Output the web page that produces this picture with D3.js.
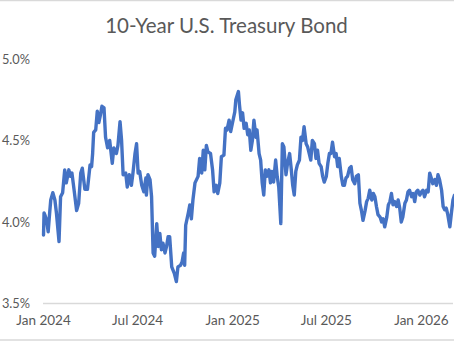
<!DOCTYPE html>
<html>
<head>
<meta charset="utf-8">
<script src="https://cdn.jsdelivr.net/npm/d3@7/dist/d3.min.js"></script>
<style>
  html, body { margin: 0; padding: 0; background: #fff; }
  svg { display: block; }
  text { font-family: Lato, "Open Sans", sans-serif; fill: #595959; }
</style>
</head>
<body>
<svg id="chart" width="454" height="341"></svg>
<script>
// 10-year Treasury yield (%), sampled closes
const points2024 = [
  ["2024-01-02", 3.92], ["2024-01-03", 4.055], ["2024-01-05", 4.04], ["2024-01-08", 4.01],
  ["2024-01-11", 3.94], ["2024-01-14", 4.06], ["2024-01-16", 4.135], ["2024-01-20", 4.18],
  ["2024-01-24", 4.135], ["2024-01-27", 4.055], ["2024-02-01", 3.88], ["2024-02-04", 4.155],
  ["2024-02-08", 4.18], ["2024-02-12", 4.32], ["2024-02-15", 4.24], ["2024-02-20", 4.32],
  ["2024-02-23", 4.28], ["2024-02-26", 4.30], ["2024-03-01", 4.20], ["2024-03-06", 4.07],
  ["2024-03-10", 4.115], ["2024-03-14", 4.30], ["2024-03-17", 4.33], ["2024-03-22", 4.20],
  ["2024-03-27", 4.20], ["2024-04-01", 4.35], ["2024-04-04", 4.34], ["2024-04-06", 4.42],
  ["2024-04-08", 4.55], ["2024-04-12", 4.565], ["2024-04-15", 4.68], ["2024-04-18", 4.61],
  ["2024-04-21", 4.655], ["2024-04-24", 4.71], ["2024-04-28", 4.70], ["2024-05-01", 4.52],
  ["2024-05-05", 4.455], ["2024-05-09", 4.50], ["2024-05-14", 4.36], ["2024-05-17", 4.455],
  ["2024-05-22", 4.42], ["2024-05-25", 4.47], ["2024-05-29", 4.615], ["2024-06-01", 4.50],
  ["2024-06-04", 4.29], ["2024-06-09", 4.30], ["2024-06-12", 4.215], ["2024-06-16", 4.29],
  ["2024-06-20", 4.225], ["2024-06-23", 4.30], ["2024-06-27", 4.42], ["2024-06-30", 4.48],
  ["2024-07-03", 4.30], ["2024-07-06", 4.31], ["2024-07-10", 4.225], ["2024-07-14", 4.185],
  ["2024-07-18", 4.27], ["2024-07-19", 4.165], ["2024-07-22", 4.29], ["2024-07-26", 4.26],
  ["2024-07-29", 4.155], ["2024-08-01", 3.81], ["2024-08-04", 3.79], ["2024-08-08", 3.99],
  ["2024-08-11", 3.85], ["2024-08-14", 3.93], ["2024-08-17", 3.83], ["2024-08-20", 3.87],
  ["2024-08-24", 3.81], ["2024-08-27", 3.85], ["2024-08-30", 3.91], ["2024-09-02", 3.91],
  ["2024-09-06", 3.725], ["2024-09-11", 3.685], ["2024-09-15", 3.635], ["2024-09-18", 3.725],
  ["2024-09-23", 3.735], ["2024-09-26", 3.755], ["2024-09-29", 3.81], ["2024-10-01", 3.735],
  ["2024-10-03", 3.98], ["2024-10-08", 4.055], ["2024-10-11", 4.105], ["2024-10-14", 4.02],
  ["2024-10-17", 4.135], ["2024-10-21", 4.24], ["2024-10-24", 4.26], ["2024-10-27", 4.28],
  ["2024-10-30", 4.39], ["2024-11-03", 4.30], ["2024-11-06", 4.44], ["2024-11-09", 4.32],
  ["2024-11-12", 4.47], ["2024-11-15", 4.43], ["2024-11-20", 4.42], ["2024-11-24", 4.32],
  ["2024-11-27", 4.185], ["2024-12-01", 4.225], ["2024-12-04", 4.175], ["2024-12-08", 4.24],
  ["2024-12-11", 4.40], ["2024-12-16", 4.41], ["2024-12-19", 4.575], ["2024-12-22", 4.565],
  ["2024-12-26", 4.625], ["2024-12-29", 4.555]
];

const points2025 = [
  ["2025-01-02", 4.615], ["2025-01-06", 4.675], ["2025-01-08", 4.75], ["2025-01-13", 4.80],
  ["2025-01-15", 4.72], ["2025-01-18", 4.625], ["2025-01-21", 4.67], ["2025-01-24", 4.575],
  ["2025-01-28", 4.605], ["2025-01-31", 4.535], ["2025-02-03", 4.565], ["2025-02-06", 4.44],
  ["2025-02-09", 4.50], ["2025-02-12", 4.625], ["2025-02-16", 4.52], ["2025-02-18", 4.565],
  ["2025-02-22", 4.42], ["2025-02-25", 4.38], ["2025-02-28", 4.24], ["2025-03-03", 4.165],
  ["2025-03-06", 4.32], ["2025-03-09", 4.28], ["2025-03-13", 4.32], ["2025-03-16", 4.24],
  ["2025-03-19", 4.31], ["2025-03-22", 4.245], ["2025-03-26", 4.38], ["2025-03-29", 4.28],
  ["2025-04-01", 4.215], ["2025-04-05", 3.99], ["2025-04-08", 4.48], ["2025-04-11", 4.46],
  ["2025-04-15", 4.29], ["2025-04-18", 4.36], ["2025-04-22", 4.42], ["2025-04-25", 4.33],
  ["2025-04-28", 4.225], ["2025-05-01", 4.165], ["2025-05-04", 4.31], ["2025-05-07", 4.35],
  ["2025-05-11", 4.38], ["2025-05-14", 4.52], ["2025-05-17", 4.50], ["2025-05-20", 4.585],
  ["2025-05-24", 4.48], ["2025-05-27", 4.46], ["2025-05-30", 4.42], ["2025-06-02", 4.38],
  ["2025-06-05", 4.50], ["2025-06-09", 4.48], ["2025-06-12", 4.39], ["2025-06-15", 4.44],
  ["2025-06-18", 4.36], ["2025-06-22", 4.34], ["2025-06-25", 4.28], ["2025-06-28", 4.245],
  ["2025-07-02", 4.28], ["2025-07-05", 4.36], ["2025-07-08", 4.42], ["2025-07-11", 4.42],
  ["2025-07-14", 4.49], ["2025-07-18", 4.40], ["2025-07-21", 4.42], ["2025-07-24", 4.34],
  ["2025-07-27", 4.39], ["2025-07-31", 4.28], ["2025-08-03", 4.225], ["2025-08-06", 4.225],
  ["2025-08-09", 4.27], ["2025-08-12", 4.28], ["2025-08-16", 4.33], ["2025-08-19", 4.34],
  ["2025-08-22", 4.26], ["2025-08-26", 4.235], ["2025-08-29", 4.28], ["2025-09-02", 4.29],
  ["2025-09-05", 4.115], ["2025-09-08", 4.07], ["2025-09-11", 4.01], ["2025-09-15", 4.07],
  ["2025-09-18", 4.125], ["2025-09-21", 4.145], ["2025-09-24", 4.195], ["2025-09-28", 4.135],
  ["2025-10-01", 4.175], ["2025-10-04", 4.155], ["2025-10-07", 4.095], ["2025-10-10", 4.045],
  ["2025-10-14", 4.03], ["2025-10-17", 4.00], ["2025-10-20", 4.02], ["2025-10-23", 3.97],
  ["2025-10-27", 4.03], ["2025-10-30", 4.105], ["2025-11-02", 4.125], ["2025-11-05", 4.175],
  ["2025-11-08", 4.105], ["2025-11-11", 4.125], ["2025-11-15", 4.095], ["2025-11-18", 4.135],
  ["2025-11-21", 4.085], ["2025-11-24", 4.00], ["2025-11-27", 4.03], ["2025-12-01", 4.115],
  ["2025-12-04", 4.135], ["2025-12-07", 4.185], ["2025-12-10", 4.195], ["2025-12-14", 4.155],
  ["2025-12-17", 4.175], ["2025-12-20", 4.125], ["2025-12-23", 4.185], ["2025-12-26", 4.195],
  ["2025-12-30", 4.165]
];

const points2026 = [
  ["2026-01-02", 4.185], ["2026-01-05", 4.195], ["2026-01-08", 4.155], ["2026-01-12", 4.195],
  ["2026-01-15", 4.185], ["2026-01-18", 4.30], ["2026-01-21", 4.27], ["2026-01-24", 4.235],
  ["2026-01-28", 4.26], ["2026-01-31", 4.225], ["2026-02-03", 4.29], ["2026-02-06", 4.26],
  ["2026-02-10", 4.195], ["2026-02-13", 4.095], ["2026-02-16", 4.075], ["2026-02-19", 4.085],
  ["2026-02-22", 4.045], ["2026-02-26", 3.97], ["2026-03-01", 4.055], ["2026-03-04", 4.135],
  ["2026-03-07", 4.165]
];

const yTicks = [3.5, 4.0, 4.5, 5.0];
const xTickDates = ["2024-01-01", "2024-07-01", "2025-01-01", "2025-07-01", "2026-01-01"];
const xTickLabels = ["Jan 2024", "Jul 2024", "Jan 2025", "Jul 2025", "Jan 2026"];
const titleText = "10-Year U.S. Treasury Bond";

const W = 454, H = 341;
const parse = d3.timeParse("%Y-%m-%d");
const series = points2024.concat(points2025, points2026)
  .map(([d, v]) => ({ date: parse(d), value: v }));

const svg = d3.select("#chart");

const x = d3.scaleTime()
  .domain([parse("2024-01-01"), parse("2026-03-06")])
  .range([43, 454]);
const y = d3.scaleLinear()
  .domain([3.5, 5.0])
  .range([303.5, 59]);

// chart frame edges
svg.append("line").attr("x1", 0).attr("x2", W).attr("y1", 0.5).attr("y2", 0.5)
  .attr("stroke", "#d9d9d9").attr("stroke-width", 1.5);
svg.append("line").attr("x1", 0).attr("x2", W).attr("y1", 340).attr("y2", 340)
  .attr("stroke", "#d9d9d9").attr("stroke-width", 1.5);

// title
svg.append("text")
  .attr("x", 226.5).attr("y", 33)
  .attr("text-anchor", "middle")
  .style("font-size", "20.5px")
  .text(titleText);

// y axis labels
const yAxis = d3.axisLeft(y).tickValues(yTicks)
  .tickFormat(d => d3.format(".1f")(d) + "%")
  .tickSize(0).tickPadding(0);
const yG = svg.append("g").attr("transform", "translate(30,0)").call(yAxis);
yG.select(".domain").remove();
yG.selectAll("text")
  .style("font-size", "12.8px").style("font-family", "Lato, sans-serif").attr("fill", "#595959");

// x axis line and labels
svg.append("line")
  .attr("x1", 43).attr("x2", 453)
  .attr("y1", y(3.5)).attr("y2", y(3.5))
  .attr("stroke", "#d9d9d9").attr("stroke-width", 1.5);

const xAxis = d3.axisBottom(x)
  .tickValues(xTickDates.map(parse))
  .tickFormat((d, i) => xTickLabels[i])
  .tickSize(0).tickPadding(0);
const xG = svg.append("g").attr("transform", "translate(0,315.5)").call(xAxis);
xG.select(".domain").remove();
xG.selectAll("text")
  .style("font-size", "13.5px").style("font-family", "Lato, sans-serif").attr("fill", "#595959");

// clip region for the series
svg.append("clipPath").attr("id", "plot-clip")
  .append("rect").attr("x", 0).attr("y", 40).attr("width", W).attr("height", 280);

const line = d3.line()
  .x(d => x(d.date))
  .y(d => y(d.value));

svg.append("path")
  .datum(series)
  .attr("clip-path", "url(#plot-clip)")
  .attr("fill", "none")
  .attr("stroke", "#4472c4")
  .attr("stroke-width", 3.4)
  .attr("stroke-linejoin", "round")
  .attr("stroke-linecap", "round")
  .attr("d", line);
</script>
</body>
</html>
